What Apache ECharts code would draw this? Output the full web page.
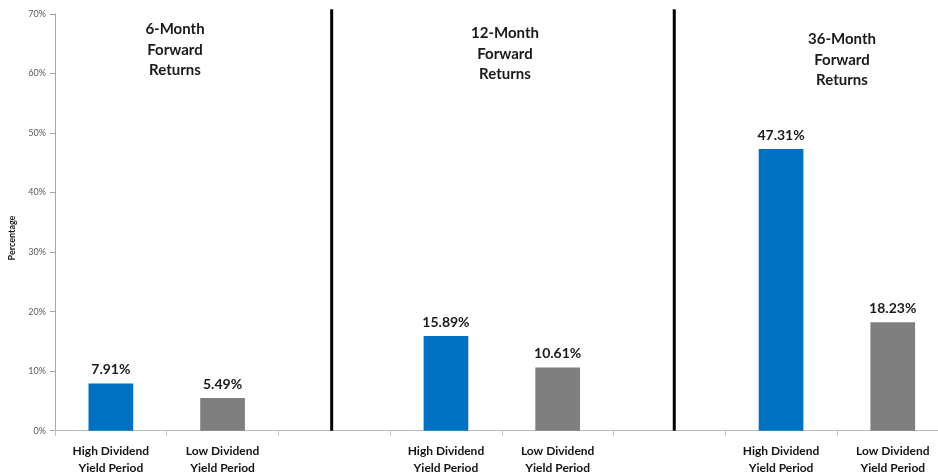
<!DOCTYPE html>
<html>
<head>
<meta charset="utf-8">
<script src="https://cdn.jsdelivr.net/npm/echarts@6/dist/echarts.min.js"></script>
<style>
  html, body { margin: 0; padding: 0; background: #ffffff; }
  #chart { width: 938px; height: 475px; }
</style>
</head>
<body>
<div id="chart"></div>
<script>
// Categories (blank slots separate the three panels)
const categories = [
  'High Dividend\nYield Period', 'Low Dividend\nYield Period', '',
  'High Dividend\nYield Period', 'Low Dividend\nYield Period', '',
  'High Dividend\nYield Period', 'Low Dividend\nYield Period'
];
// Values (%), null = empty separator slot
const values = [7.91, 5.49, null, 15.89, 10.61, null, 47.31, 18.23];
// Which bars are "high" (blue) vs "low" (grey)
const barKinds = ['high', 'low', null, 'high', 'low', null, 'high', 'low'];
// Panel titles
const panelTitles = ['6-Month\nForward\nReturns', '12-Month\nForward\nReturns', '36-Month\nForward\nReturns'];
// Divider line positions in category units (0..8)
const dividerPos = [2.477, 5.544];
const dividerTop = 70.8;
// Y axis ticks
const yMin = 0, yMax = 70, yStep = 10;

const colors = { high: '#0070C0', low: '#7F7F7F' };
const font = 'Lato, "Open Sans", sans-serif';

const chart = echarts.init(document.getElementById('chart'));

const dividerSeries = dividerPos.map(p => ({
  type: 'line',
  xAxisIndex: 1,
  yAxisIndex: 0,
  data: [[p, 0], [p, dividerTop]],
  symbol: 'none',
  clip: false,
  silent: true,
  lineStyle: { color: '#000000', width: 3 },
  z: 5
}));

chart.setOption({
  animation: false,
  backgroundColor: '#ffffff',
  title: [
    { text: panelTitles[0], left: 175, top: 19 },
    { text: panelTitles[1], left: 505, top: 23 },
    { text: panelTitles[2], left: 842, top: 29 }
  ].map(t => Object.assign(t, {
    textAlign: 'center',
    padding: 0,
    textStyle: { fontFamily: font, fontWeight: 'bold', fontSize: 15, lineHeight: 20.5, color: '#1a1a1a' }
  })),
  graphic: [{
    type: 'text',
    x: 12, y: 238,
    rotation: Math.PI / 2,
    style: {
      text: 'Percentage',
      x: 0, y: 0,
      align: 'center', verticalAlign: 'middle',
      font: 'bold 9px ' + font,
      fill: '#1a1a1a'
    }
  }],
  grid: { left: 55, width: 893.6, top: 14, bottom: 44.3, containLabel: false, outerBoundsMode: 'none' },
  xAxis: [{
    type: 'category',
    data: categories,
    axisLine: { lineStyle: { color: '#BFBFBF', width: 1 } },
    axisTick: { show: true, alignWithLabel: false, length: 5, lineStyle: { color: '#BFBFBF' } },
    axisLabel: {
      interval: 0, margin: 12,
      fontFamily: font, fontWeight: 'bold', fontSize: 12, lineHeight: 17, color: '#141414'
    }
  }, {
    type: 'value', min: 0, max: categories.length, show: false
  }],
  yAxis: {
    type: 'value',
    min: yMin, max: yMax, interval: yStep,
    axisLine: { show: true, lineStyle: { color: '#A6A6A6' } },
    axisTick: { show: true, length: 5, lineStyle: { color: '#A6A6A6' } },
    splitLine: { show: false },
    axisLabel: { formatter: '{value}%', margin: 9, fontFamily: font, fontSize: 9, color: '#595959' }
  },
  series: [{
    type: 'bar',
    xAxisIndex: 0,
    barWidth: '40%',
    data: values.map((v, i) => ({
      value: v,
      itemStyle: { color: barKinds[i] ? colors[barKinds[i]] : 'transparent' }
    })),
    label: {
      show: true, position: 'top', distance: 7,
      formatter: p => p.value == null ? '' : p.value.toFixed(2) + '%',
      fontFamily: font, fontWeight: 'bold', fontSize: 14, color: '#1a1a1a'
    }
  }].concat(dividerSeries)
});
</script>
</body>
</html>
